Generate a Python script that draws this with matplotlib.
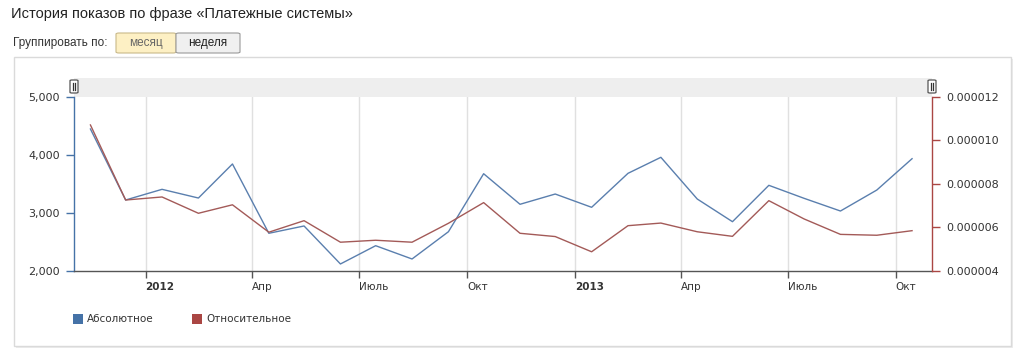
import matplotlib
matplotlib.use("Agg")
import matplotlib.pyplot as plt
import matplotlib.dates as mdates
import matplotlib.transforms as mtransforms
from matplotlib.patches import Rectangle, FancyBboxPatch
from matplotlib.lines import Line2D
from matplotlib.ticker import FixedLocator, FuncFormatter
import datetime as dt

# данные: месяцы с ноября 2011 по октябрь 2013
months = [(2011, 11), (2011, 12)] + [(2012, m) for m in range(1, 13)] + [(2013, m) for m in range(1, 11)]
absolute = [4443, 3219, 3403, 3253, 3840, 2645, 2771, 2116, 2431, 2202, 2672, 3672,
            3145, 3322, 3093, 3679, 3955, 3236, 2845, 3472, 3248, 3029, 3391, 3931]
relative = [10.70, 7.25, 7.39, 6.64, 7.03, 5.77, 6.30, 5.31, 5.40, 5.31, 6.18, 7.13,
            5.72, 5.57, 4.87, 6.07, 6.19, 5.79, 5.58, 7.22, 6.38, 5.67, 5.63, 5.84]
relative = [v * 1e-6 for v in relative]

tick_dates = [(2012, 1), (2012, 4), (2012, 7), (2012, 10), (2013, 1), (2013, 4), (2013, 7), (2013, 10)]
tick_labels = ["2012", "Апр", "Июль", "Окт", "2013", "Апр", "Июль", "Окт"]
left_ticks = [2000, 3000, 4000, 5000]
right_ticks = [4e-6, 6e-6, 8e-6, 10e-6, 12e-6]

BLUE = "#4572a7"
RED = "#aa4643"
W, H = 1024, 355

def fx(px):
    return px / W

def fy(py):
    return 1 - py / H

fig = plt.figure(figsize=(W / 100, H / 100), dpi=100)
fig.patch.set_facecolor("white")

# рамка панели графика
fig.patches.append(Rectangle((fx(16), fy(348)), fx(997), 289 / H, transform=fig.transFigure,
                             facecolor="#ececec", edgecolor="none", zorder=-3))
fig.patches.append(Rectangle((fx(14), fy(346)), fx(997), 289 / H, transform=fig.transFigure,
                             facecolor="white", edgecolor="#dadada", lw=1, zorder=-2))

# заголовок и кнопки
fig.text(fx(11), fy(14), "История показов по фразе «Платежные системы»",
         family="Liberation Sans", fontsize=10.5, color="#222222", va="center")
fig.text(fx(13), fy(43), "Группировать по:", family="Liberation Sans", fontsize=8.5,
         color="#333333", va="center")
fig.patches.append(FancyBboxPatch((fx(116), fy(53)), fx(60), 20 / H, transform=fig.transFigure,
                                  boxstyle="round,pad=0,rounding_size=0.003",
                                  facecolor="#fdf0c4", edgecolor="#c9b98a", lw=0.8))
fig.patches.append(FancyBboxPatch((fx(176), fy(53)), fx(64), 20 / H, transform=fig.transFigure,
                                  boxstyle="round,pad=0,rounding_size=0.003",
                                  facecolor="#f0f0f0", edgecolor="#9a9a9a", lw=0.8))
fig.text(fx(146), fy(43), "месяц", family="Liberation Sans", fontsize=8.5, color="#666666",
         ha="center", va="center")
fig.text(fx(208), fy(43), "неделя", family="Liberation Sans", fontsize=8.5, color="#222222",
         ha="center", va="center")

# полоса навигатора
fig.patches.append(Rectangle((fx(74), fy(97)), fx(858), 19 / H, transform=fig.transFigure,
                             facecolor="#eeeeee", edgecolor="none", zorder=-1))
for hx in [74, 932]:
    fig.patches.append(FancyBboxPatch((fx(hx - 4), fy(93)), fx(8), 13 / H, transform=fig.transFigure,
                                      boxstyle="round,pad=0,rounding_size=0.002",
                                      facecolor="white", edgecolor="#555555", lw=0.9, zorder=5))
    for dx in (-1.2, 1.2):
        fig.lines.append(Line2D([fx(hx + dx), fx(hx + dx)], [fy(83), fy(90)],
                                transform=fig.transFigure, color="#333333", lw=0.9, zorder=6))

ax = fig.add_axes([fx(74), fy(270.7), fx(858), 174 / H])
ax2 = ax.twinx()

dates = [dt.date(y, m, 15) for y, m in months]
ax.plot(dates, absolute, color="#5a7fae", lw=1.0, zorder=3)
ax2.plot(dates, relative, color="#a35a58", lw=1.0, zorder=3)

ax.set_xlim(dt.date(2011, 11, 1), dt.date(2013, 11, 1))
ax.set_ylim(2000, 5000)
ax2.set_ylim(4e-6, 12e-6)

tick_pos = [mdates.date2num(dt.date(y, m, 1)) for y, m in tick_dates]
ax.xaxis.set_major_locator(FixedLocator(tick_pos))
ax.set_xticklabels(tick_labels)
shift = mtransforms.ScaledTranslation(3 / 100, 0, fig.dpi_scale_trans)
for lbl, txt in zip(ax.get_xticklabels(), tick_labels):
    lbl.set_family("DejaVu Sans")
    lbl.set_fontsize(7.5)
    lbl.set_color("#333333")
    lbl.set_horizontalalignment("left")
    lbl.set_transform(lbl.get_transform() + shift)
    if txt.isdigit():
        lbl.set_fontweight("bold")
for p in tick_pos:
    ax.axvline(p, color="#e0e0e0", lw=1, zorder=1)

ax.set_yticks(left_ticks)
ax.yaxis.set_major_formatter(FuncFormatter(lambda v, p: f"{int(v):,}"))
ax2.set_yticks(right_ticks)
ax2.yaxis.set_major_formatter(FuncFormatter(lambda v, p: f"{v:.6f}"))

ax.tick_params(axis="x", length=5, width=1, color="#555555", pad=3)
ax.tick_params(axis="y", length=6, width=1, color=BLUE, labelsize=8, labelcolor="#333333", pad=4)
ax2.tick_params(axis="y", length=6, width=1, color=RED, labelsize=8, labelcolor="#333333", pad=4)

for a in (ax, ax2):
    a.spines["top"].set_visible(False)
    a.patch.set_visible(False)
ax.spines["right"].set_visible(False)
ax2.spines["left"].set_visible(False)
ax2.spines["bottom"].set_visible(False)
ax.spines["left"].set_color(BLUE)
ax2.spines["right"].set_color(RED)
ax.spines["bottom"].set_color("#555555")
for s in ("left", "bottom"):
    ax.spines[s].set_linewidth(1)
ax2.spines["right"].set_linewidth(1)

# легенда
fig.patches.append(Rectangle((fx(73), fy(324)), fx(10), 10 / H, transform=fig.transFigure,
                             facecolor=BLUE, edgecolor="none"))
fig.text(fx(87), fy(319), "Абсолютное", family="DejaVu Sans", fontsize=7.5, color="#333333",
         va="center")
fig.patches.append(Rectangle((fx(192), fy(324)), fx(10), 10 / H, transform=fig.transFigure,
                             facecolor=RED, edgecolor="none"))
fig.text(fx(206), fy(319), "Относительное", family="DejaVu Sans", fontsize=7.5, color="#333333",
         va="center")

fig.savefig("out.png", dpi=100)
